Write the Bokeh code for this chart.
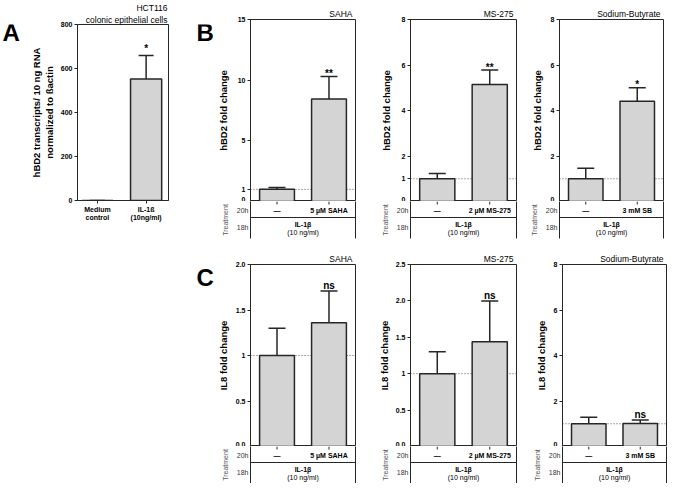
import math
from bokeh.plotting import figure
from bokeh.models import (FixedTicker, Span, Whisker, TeeHead, ColumnDataSource,
                          Range1d, Spacer, LinearAxis, Title)
from bokeh.layouts import row, column
from bokeh.embed import file_html
from bokeh.resources import INLINE
from bokeh.core.properties import value

FONT = "Liberation Sans"
BAR_FILL = "#d4d4d4"
INK = "#262626"

# ---------------- data ----------------
a_labels = ["Medium\ncontrol", "IL-1ß\n(10ng/ml)"]
a_values = [0, 552]
a_err = [0, 659]
a_sig = ["", "*"]
a_yticks = [0, 200, 400, 600, 800]
a_title = ["HCT116", "colonic epithelial cells"]
a_ylabel = "hBD2 transcripts/ 10 ng RNA\nnormalized to ßactin"

drug_titles = ["SAHA", "MS-275", "Sodium-Butyrate"]
drug_treatments = ["5 µM SAHA", "2 µM MS-275", "3 mM SB"]
control_label = "—"

b_values = [[1.0, 8.45], [1.0, 5.14], [1.0, 4.41]]
b_err = [[1.15, 10.3], [1.23, 5.78], [1.46, 5.0]]
b_sig = ["**", "**", "*"]
b_ymax = [15, 8, 8]
b_yticks = [[0, 1, 5, 10, 15], [0, 1, 2, 4, 6, 8], [0, 2, 4, 6, 8]]
b_ytick_labels = [["0", "1", "5", "10", "15"], ["0", "1", "2", "4", "6", "8"],
                  ["0", "2", "4", "6", "8"]]

c_values = [[1.0, 1.36], [1.0, 1.44], [1.0, 1.01]]
c_err = [[1.30, 1.71], [1.30, 2.0], [1.29, 1.17]]
c_sig = ["ns", "ns", "ns"]
c_ymax = [2.0, 2.5, 8]
c_yticks = [[0, 0.5, 1, 1.5, 2], [0, 0.5, 1, 1.5, 2, 2.5], [0, 2, 4, 6, 8]]
c_ytick_labels = [["0.0", "0.5", "1", "1.5", "2.0"],
                  ["0.0", "0.5", "1", "1.5", "2.0", "2.5"],
                  ["0", "2", "4", "6", "8"]]

baseline_value = 1
x_positions = [1, 2]
stim_label = "IL-1β"
stim_dose = "(10 ng/ml)"

# treatment table rows (table units 0..2, top row = 20h)
table_rows = ["20h", "18h"]
table_row_y = [1.51, 0.6]
table_line_y = 1.135
table_stim_y = [0.757, 0.324]
TABLE_YR = (0, 2)

# ---------------- layout constants ----------------
XR = (0.49, 2.51)
ROW_H = [248, 235]


def style_y(p, ymax, ticks, labels, standoff, ylabel):
    ya = p.yaxis[0]
    ya.ticker = FixedTicker(ticks=ticks)
    ya.major_label_overrides = {t: l for t, l in zip(ticks, labels)}
    ya.bounds = (0, ymax)
    ya.axis_label = ylabel
    ya.axis_label_text_font = FONT
    ya.axis_label_text_font_size = "9.5px"
    ya.axis_label_text_font_style = "bold"
    ya.axis_label_standoff = standoff
    ya.axis_label_text_color = "black"
    ya.major_label_text_font = FONT
    ya.major_label_text_font_size = "7px"
    ya.major_label_text_font_style = "bold"
    ya.major_label_text_color = "black"
    ya.major_label_standoff = 2
    ya.major_tick_in = 0
    ya.major_tick_out = 3
    ya.minor_tick_out = 0
    ya.minor_tick_in = 0
    ya.axis_line_color = INK
    ya.major_tick_line_color = INK


def style_title(t, standoff, offset):
    t.align = "right"
    t.text_font = FONT
    t.text_font_size = "8.5px"
    t.text_font_style = "normal"
    t.text_color = "black"
    t.standoff = standoff
    t.offset = offset


def letter_fig(width, height, letter, x, y):
    p = figure(width=width, height=height, output_backend="svg", toolbar_location=None,
               x_range=Range1d(0, width), y_range=Range1d(height, 0),
               min_border=0)
    p.axis.visible = False
    p.grid.visible = False
    p.outline_line_color = None
    p.text(x=[x], y=[y], text=[letter], text_align="left", text_baseline="middle",
           text_font=value(FONT), text_font_size="24px", text_font_style="bold",
           text_color="black")
    return p


def bc_panel(width, chart_h, table_h, left, right, top, ymax, ticks, tlabels,
             vals, errs, sig, title, treat, ylabel, standoff, sig_off):
    xr = Range1d(*XR)
    p = figure(width=width, height=chart_h, output_backend="svg", toolbar_location=None,
               x_range=xr, y_range=Range1d(0, ymax),
               min_border_left=left, min_border_right=right,
               min_border_top=top, min_border_bottom=0)
    p.outline_line_color = INK
    p.outline_line_width = 1
    p.grid.visible = False
    p.xaxis.visible = False
    style_y(p, ymax, ticks, tlabels, standoff, ylabel)
    p.title.text = title
    style_title(p.title, 1, 3)

    p.add_layout(Span(location=baseline_value, dimension="width", line_color="#555555",
                      line_dash="1 2", line_width=1, level="underlay"))

    src = ColumnDataSource(dict(x=x_positions, top=vals, err=errs, sig=["", sig]))
    p.vbar(x="x", top="top", bottom=0, width=0.67, source=src, fill_color=BAR_FILL,
           line_color=INK, line_width=1.5)
    p.add_layout(Whisker(source=src, base="x", lower="top", upper="err",
                         line_color=INK, line_width=1.5, lower_head=None,
                         upper_head=TeeHead(size=17, line_color=INK, line_width=1.5)))
    p.text(x="x", y="err", text="sig", source=src, text_align="center",
           text_baseline="middle", y_offset=sig_off, text_font=value(FONT),
           text_font_size="10px", text_font_style="bold", text_color="black")

    # treatment table below the chart
    t = figure(width=width, height=table_h, output_backend="svg", toolbar_location=None,
               x_range=xr, y_range=Range1d(*TABLE_YR),
               min_border_left=left, min_border_right=right, min_border_top=0,
               min_border_bottom=table_h - 37)
    t.outline_line_color = None
    t.grid.visible = False
    t.xaxis.visible = False
    # small tick marks under each bar
    t.ray(x=x_positions, y=[TABLE_YR[1]] * 2, length=3, length_units="screen",
          angle=-math.pi / 2, line_color=INK, line_width=1)

    ya = t.yaxis[0]
    ya.ticker = FixedTicker(ticks=table_row_y)
    ya.major_label_overrides = {y: r for y, r in zip(table_row_y, table_rows)}
    ya.major_tick_out = 0
    ya.major_tick_in = 0
    ya.minor_tick_out = 0
    ya.minor_tick_in = 0
    ya.major_label_standoff = 2
    ya.major_label_text_font = FONT
    ya.major_label_text_font_size = "7px"
    ya.major_label_text_color = "#333333"
    ya.axis_line_color = INK
    ya.axis_label = "Treatment"
    ya.axis_label_text_font = FONT
    ya.axis_label_text_font_size = "7px"
    ya.axis_label_text_font_style = "normal"
    ya.axis_label_text_color = "#555555"
    ya.axis_label_standoff = 5

    t.add_layout(LinearAxis(ticker=FixedTicker(ticks=[]), major_tick_out=0, major_tick_in=0,
                            minor_tick_out=0, minor_tick_in=0, major_label_standoff=0,
                            axis_line_color=INK), "right")
    t.add_layout(Span(location=table_line_y, dimension="width", line_color=INK, line_width=1))

    row20 = ColumnDataSource(dict(x=x_positions, y=[table_row_y[0]] * 2,
                                  text=[control_label, treat]))
    t.text(x="x", y="y", text="text", source=row20, text_align="center",
           text_baseline="middle", text_font=value(FONT), text_font_size="7px",
           text_font_style="bold", text_color="black")
    stim = ColumnDataSource(dict(x=[sum(x_positions) / 2] * 2, y=table_stim_y,
                                 text=[stim_label, stim_dose],
                                 style=["bold", "normal"]))
    t.text(x="x", y="y", text="text", source=stim, text_align="center",
           text_baseline="middle", text_font=value(FONT), text_font_size="7px",
           text_font_style="style", text_color="black")
    return column(p, t, spacing=0)


# ---------------- panel A ----------------
AXR = (0.59, 2.46)
pa = figure(width=161, height=ROW_H[0], output_backend="svg", toolbar_location=None,
            x_range=Range1d(*AXR), y_range=Range1d(0, 800),
            min_border_left=53, min_border_right=17, min_border_top=20, min_border_bottom=48)
pa.grid.visible = False
pa.outline_line_color = INK
style_y(pa, 800, a_yticks, [str(t) for t in a_yticks], 3, a_ylabel)
pa.title.text = a_title[0]
style_title(pa.title, 0, 1)
t2 = Title(text=a_title[1])
style_title(t2, 0, 1)
pa.add_layout(t2, "above")
xa = pa.xaxis[0]
xa.ticker = FixedTicker(ticks=x_positions)
xa.major_label_overrides = {x: l for x, l in zip(x_positions, a_labels)}
xa.major_label_text_font = FONT
xa.major_label_text_font_size = "7px"
xa.major_label_text_font_style = "bold"
xa.major_label_text_color = "black"
xa.major_label_standoff = 2
xa.major_tick_in = 0
xa.major_tick_out = 3
xa.minor_tick_out = 0
xa.minor_tick_in = 0
xa.axis_line_color = INK
xa.major_tick_line_color = INK
asrc = ColumnDataSource(dict(x=x_positions, top=a_values, err=a_err, sig=a_sig))
pa.vbar(x="x", top="top", bottom=0, width=0.64, source=asrc, fill_color=BAR_FILL,
        line_color=INK, line_width=1.5)
pa.add_layout(Whisker(source=asrc, base="x", lower="top", upper="err", line_color=INK,
                      line_width=1.5, lower_head=None,
                      upper_head=TeeHead(size=15, line_color=INK, line_width=1.5)))
pa.text(x="x", y="err", text="sig", source=asrc, text_align="center",
        text_baseline="middle", y_offset=-7, text_font=value(FONT),
        text_font_size="10px", text_font_style="bold", text_color="black")

# ---------------- panels B and C ----------------
col_w = [144, 160, 151]
top_lr = [(36, 3), (52, 2), (41, 6)]
bot_lr = [(36, 3), (52, 2), (44, 3)]
b_standoff = [6, 7, 5]
c_standoff = [4, 3, 4]
sig_offsets = {"*": -3, "**": -3, "ns": -5.5}

b_cols = []
c_cols = []
for i in range(3):
    b_cols.append(bc_panel(col_w[i], 201, ROW_H[0] - 201, top_lr[i][0], top_lr[i][1], 19,
                           b_ymax[i], b_yticks[i], b_ytick_labels[i], b_values[i], b_err[i],
                           b_sig[i], drug_titles[i], drug_treatments[i], "hBD2 fold change",
                           b_standoff[i], sig_offsets[b_sig[i]]))
    c_cols.append(bc_panel(col_w[i], 198, ROW_H[1] - 198, bot_lr[i][0], bot_lr[i][1], 16,
                           c_ymax[i], c_yticks[i], c_ytick_labels[i], c_values[i], c_err[i],
                           c_sig[i], drug_titles[i], drug_treatments[i], "IL8 fold change",
                           c_standoff[i], sig_offsets[c_sig[i]]))

top_row = row(letter_fig(24, ROW_H[0], "A", 2, 11), pa,
              letter_fig(29, ROW_H[0], "B", 11, 11), *b_cols, spacing=0)
bot_row = row(Spacer(width=185, height=ROW_H[1]),
              letter_fig(29, ROW_H[1], "C", 11, 29), *c_cols, spacing=0)
layout = column(top_row, bot_row, spacing=0)

open("out.html", "w").write(file_html(layout, INLINE))
